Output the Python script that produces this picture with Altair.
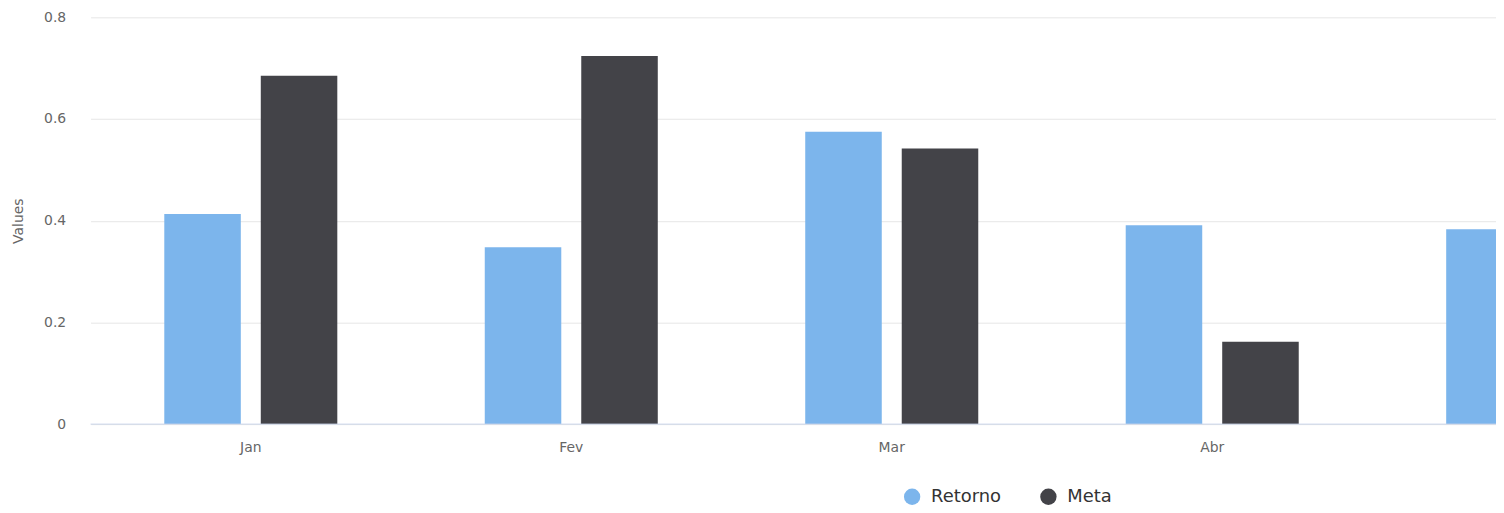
import altair as alt
import pandas as pd

months = ["Jan", "Fev", "Mar", "Abr", "Mai"]
series = ["Retorno", "Meta"]
retorno = [0.413, 0.348, 0.575, 0.391, 0.383]
meta = [0.685, 0.724, 0.542, 0.162]
colors = ["#7cb5ec", "#434348"]

rows = []
for m, v in zip(months, retorno):
    rows.append({"mes": m, "serie": "Retorno", "valor": v})
for m, v in zip(months, meta):
    rows.append({"mes": m, "serie": "Meta", "valor": v})
df = pd.DataFrame(rows)

FONT = "DejaVu Sans"

yaxis = alt.Axis(
    values=[0, 0.2, 0.4, 0.6, 0.8], format=".1~f", title="Values",
    domain=False, ticks=False, tickSize=0, labelPadding=25,
    labelFontSize=14, labelColor="#666666", labelFont=FONT,
    titleFontSize=14, titleColor="#666666", titleFont=FONT,
    titleFontWeight="normal", titlePadding=18,
    grid=True, gridColor="#e6e6e6", gridWidth=1,
)

bars = alt.Chart(df).mark_bar(clip=True).encode(
    x=alt.X(
        "mes:N",
        sort=months,
        scale=alt.Scale(domain=months, range=[0, 1611], paddingInner=0,
                        paddingOuter=0, round=False),
        axis=alt.Axis(
            values=months[:4], title=None, domain=False, ticks=False, tickSize=0,
            labelAngle=0, labelPadding=17, labelFontSize=14, labelColor="#666666",
            labelFont=FONT, grid=False,
        ),
    ),
    xOffset=alt.XOffset(
        "serie:N", sort=series,
        scale=alt.Scale(domain=series, paddingInner=0.207, paddingOuter=0.764,
                        round=False),
    ),
    y=alt.Y(
        "valor:Q",
        scale=alt.Scale(domain=[0, 0.8], nice=False),
        axis=yaxis,
    ),
    color=alt.Color(
        "serie:N", sort=series,
        scale=alt.Scale(domain=series, range=colors),
        legend=alt.Legend(
            title=None, orient="none", direction="horizontal",
            legendX=817, legendY=473, symbolType="circle", symbolSize=270,
            symbolStrokeWidth=0, labelFontSize=18, labelColor="#333333",
            labelFont=FONT, labelOffset=10, columnPadding=38, padding=0,
        ),
    ),
)

base_line = alt.Chart(pd.DataFrame({"y": [0]})).mark_rule(
    color="#ccd6eb", strokeWidth=1
).encode(y=alt.Y("y:Q", axis=yaxis))

chart = alt.layer(bars, base_line).properties(
    width=1413, height=409,
    background="white",
    autosize=alt.AutoSizeParams(type="none"),
    padding={"left": 83, "top": 8, "right": 0, "bottom": 88},
).configure_view(strokeWidth=0, stroke="transparent")

chart.save("out.html", embed_options={"renderer": "svg", "actions": False})
